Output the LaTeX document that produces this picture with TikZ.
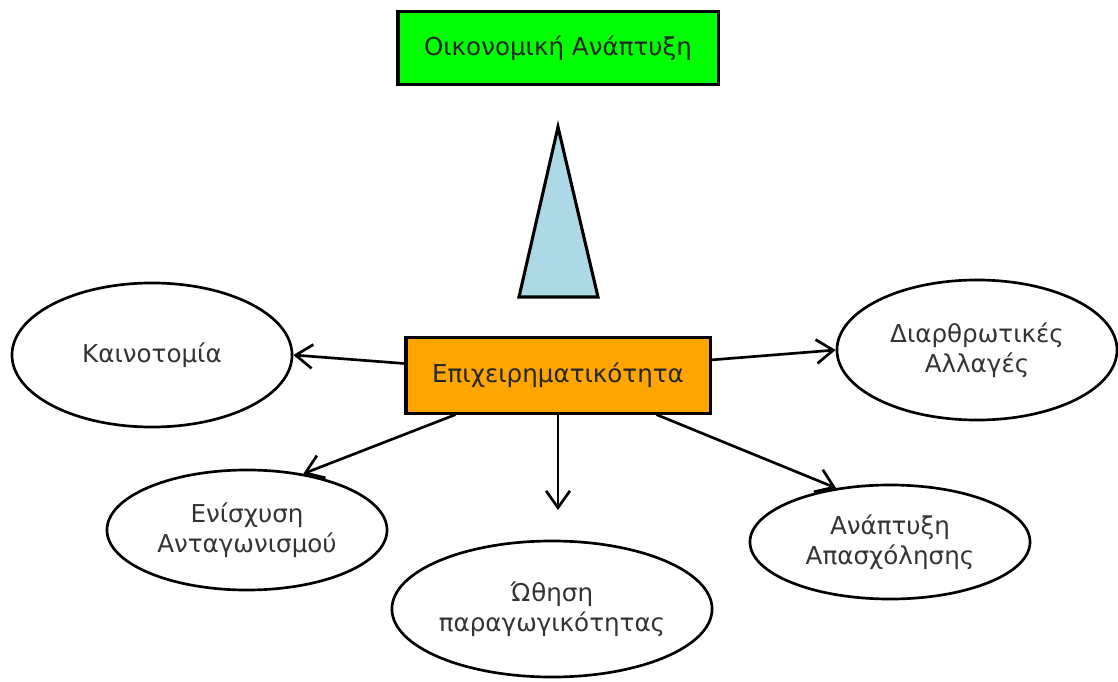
\documentclass[tikz,border=0pt]{standalone}
\usepackage{fontspec}
\setmainfont{DejaVu Sans}
\usepackage{tikz}
\usetikzlibrary{positioning,shapes.geometric,arrows.meta}

\definecolor{boxorange}{HTML}{FFA500}
\definecolor{boxgreen}{HTML}{00FF00}
\definecolor{triblue}{HTML}{ADD8E6}

\begin{document}
\begin{tikzpicture}[
    x=0.025cm, y=-0.025cm,
    box/.style={rectangle, draw, line width=2.2pt, text=black!85, font=\fontsize{17.5}{21}\selectfont},
    bubble/.style={ellipse, draw, line width=1.9pt, fill=white, inner sep=0pt, minimum width=7cm, align=center, text=black!80, font=\fontsize{17.5}{21}\selectfont},
    arrow/.style={-{Straight Barb[length=12pt,width=17pt]}, line width=1.9pt}
]
\useasboundingbox (0,0) rectangle (1118,682);

% Main nodes
\node[box, fill=boxgreen, minimum width=8cm, minimum height=1.83cm] (oik) at (558,48) {Οικονομική Ανάπτυξη};
\node[box, fill=boxorange, minimum width=7.6cm, minimum height=1.88cm] (entr) at (558,375.5) {Επιχειρηματικότητα};
\node[bubble, minimum height=3.6cm] (kain) at (152,355) {Καινοτομία};
\node[bubble, minimum height=3.5cm] (diar) at (977,350) {Διαρθρωτικές\\Αλλαγές};
\node[bubble, minimum height=3.0cm] (ens) at (247,530) {Ενίσχυση\\Ανταγωνισμού};
\node[bubble, minimum width=7.9cm, minimum height=3.4cm] (oth) at (552,609) {Ώθηση\\παραγωγικότητας};
\node[bubble, minimum height=2.85cm] (anap) at (890,542) {Ανάπτυξη\\Απασχόλησης};

% Triangle
\draw[line width=2.2pt, fill=triblue] (558,127) -- (598,297) -- (519,297) -- cycle;

% Connections
\coordinate (othin) at (558,510);
\draw[arrow] ([yshift=0.3cm]entr.west) -- (kain.east);
\draw[arrow] ([yshift=0.39cm]entr.east) -- (diar.west);
\draw[arrow] ([xshift=1.275cm]entr.south west) -- (ens.45);
\draw[arrow] (entr.south) -- (othin);
\draw[arrow] ([xshift=-1.375cm]entr.south east) -- (anap.135);

\end{tikzpicture}
\end{document}
